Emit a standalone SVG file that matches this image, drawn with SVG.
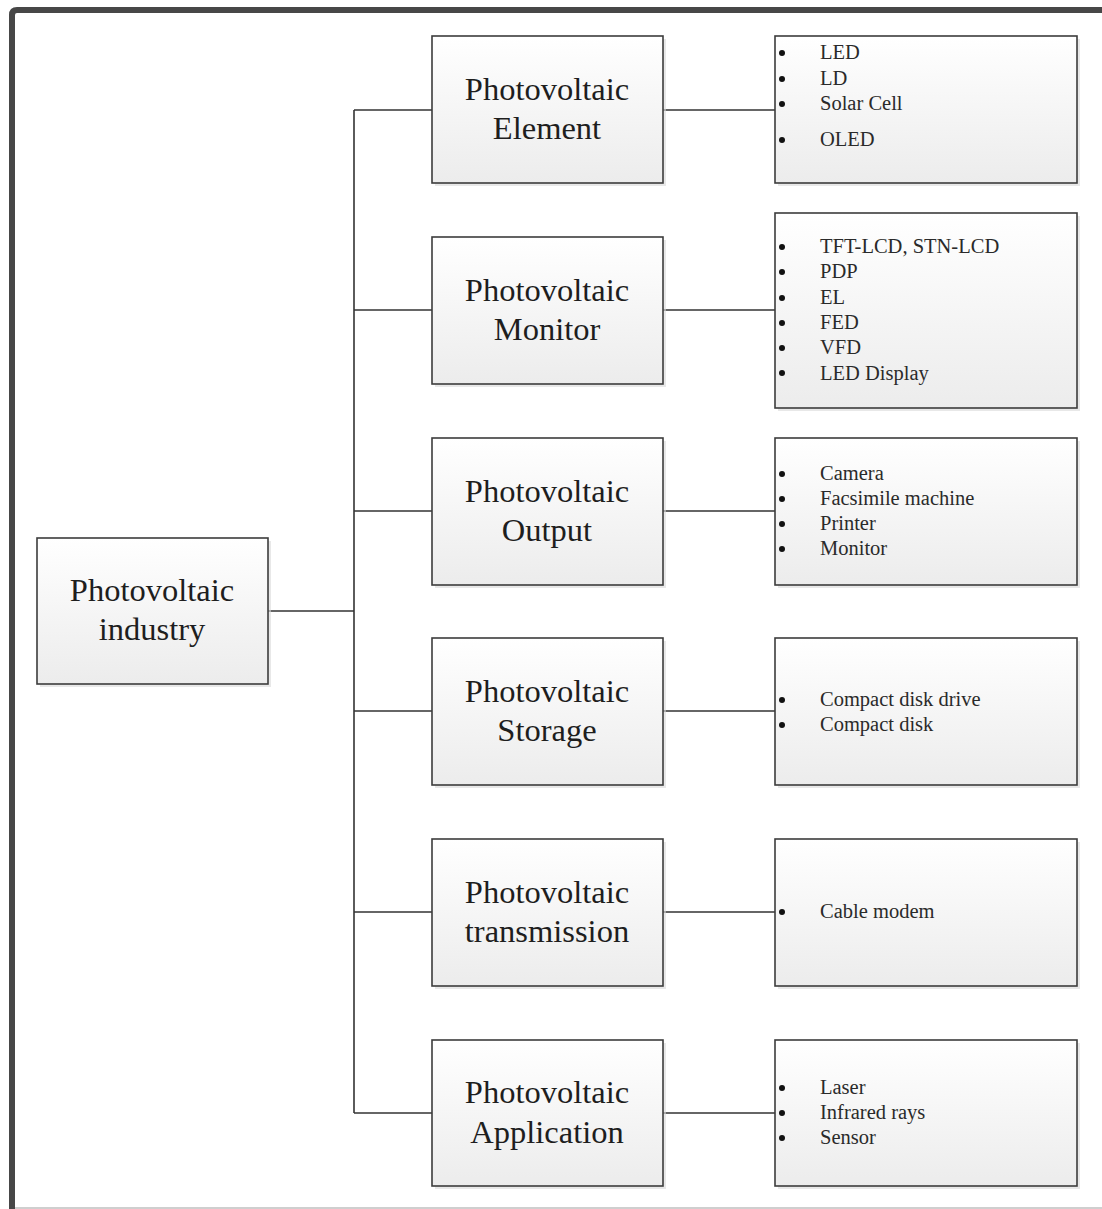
<svg xmlns="http://www.w3.org/2000/svg" width="1102" height="1209" viewBox="0 0 1102 1209">
  <style>
    .box { fill: url(#boxFill); stroke: #3c3c3c; stroke-width: 1.6; }
    .shadow { fill: #d9d9d9; opacity: 0.6; }
    .title { font-family: "Liberation Serif", "Times New Roman", serif; font-size: 32.5px; fill: #1e1e1e; text-anchor: middle; }
    .item { font-family: "Liberation Serif", "Times New Roman", serif; font-size: 20.5px; fill: #2a2a2a; }
    .bullet { fill: #111; }
    .wire { stroke: #333; stroke-width: 1.6; fill: none; }
  </style>
  <defs>
    <linearGradient id="boxFill" x1="0" y1="0" x2="0" y2="1">
      <stop offset="0" stop-color="#ffffff"/>
      <stop offset="1" stop-color="#ececec"/>
    </linearGradient>
  </defs>

  <rect width="1102" height="1209" fill="#ffffff"/>

  <!-- frame -->
  <path d="M12,1209 V15 Q12,10 17,10 H1102" fill="none" stroke="#474747" stroke-width="6"/>
  <line x1="15" y1="1208" x2="1102" y2="1208" stroke="#cfcfcf" stroke-width="2"/>

  <!-- connectors -->
  <g id="connectors">
    <line class="wire" x1="268" y1="611" x2="354" y2="611"/>
    <line class="wire" x1="354" y1="110" x2="354" y2="1113"/>
    <line class="wire" x1="354" y1="110" x2="432" y2="110"/>
    <line class="wire" x1="354" y1="310" x2="432" y2="310"/>
    <line class="wire" x1="354" y1="511" x2="432" y2="511"/>
    <line class="wire" x1="354" y1="711" x2="432" y2="711"/>
    <line class="wire" x1="354" y1="912" x2="432" y2="912"/>
    <line class="wire" x1="354" y1="1113" x2="432" y2="1113"/>
    <line class="wire" x1="663" y1="110" x2="775" y2="110"/>
    <line class="wire" x1="663" y1="310" x2="775" y2="310"/>
    <line class="wire" x1="663" y1="511" x2="775" y2="511"/>
    <line class="wire" x1="663" y1="711" x2="775" y2="711"/>
    <line class="wire" x1="663" y1="912" x2="775" y2="912"/>
    <line class="wire" x1="663" y1="1113" x2="775" y2="1113"/>
  </g>

  <!-- root -->
  <g id="root">
    <rect class="shadow" x="40" y="541" width="231" height="146"/>
    <rect class="box" x="37" y="538" width="231" height="146"/>
    <text class="title" x="152" y="601">Photovoltaic</text>
    <text class="title" x="152" y="640">industry</text>
  </g>

  <!-- categories -->
  <g id="element">
    <rect class="shadow" x="435" y="39" width="231" height="147"/>
    <rect class="box" x="432" y="36" width="231" height="147"/>
    <text class="title" x="547" y="100">Photovoltaic</text>
    <text class="title" x="547" y="139">Element</text>
  </g>
  <g id="monitor">
    <rect class="shadow" x="435" y="240" width="231" height="147"/>
    <rect class="box" x="432" y="237" width="231" height="147"/>
    <text class="title" x="547" y="301">Photovoltaic</text>
    <text class="title" x="547" y="340">Monitor</text>
  </g>
  <g id="output">
    <rect class="shadow" x="435" y="441" width="231" height="147"/>
    <rect class="box" x="432" y="438" width="231" height="147"/>
    <text class="title" x="547" y="502">Photovoltaic</text>
    <text class="title" x="547" y="541">Output</text>
  </g>
  <g id="storage">
    <rect class="shadow" x="435" y="641" width="231" height="147"/>
    <rect class="box" x="432" y="638" width="231" height="147"/>
    <text class="title" x="547" y="702">Photovoltaic</text>
    <text class="title" x="547" y="741">Storage</text>
  </g>
  <g id="transmission">
    <rect class="shadow" x="435" y="842" width="231" height="147"/>
    <rect class="box" x="432" y="839" width="231" height="147"/>
    <text class="title" x="547" y="903">Photovoltaic</text>
    <text class="title" x="547" y="942">transmission</text>
  </g>
  <g id="application">
    <rect class="shadow" x="435" y="1043" width="231" height="146"/>
    <rect class="box" x="432" y="1040" width="231" height="146"/>
    <text class="title" x="547" y="1103">Photovoltaic</text>
    <text class="title" x="547" y="1143">Application</text>
  </g>

  <!-- item lists -->
  <g id="element-items">
    <rect class="shadow" x="778" y="39" width="302" height="147"/>
    <rect class="box" x="775" y="36" width="302" height="147"/>
    <circle class="bullet" cx="782" cy="53" r="3"/>
    <circle class="bullet" cx="782" cy="79" r="3"/>
    <circle class="bullet" cx="782" cy="104" r="3"/>
    <circle class="bullet" cx="782" cy="140" r="3"/>
    <text class="item" x="820" y="59">LED</text>
    <text class="item" x="820" y="85">LD</text>
    <text class="item" x="820" y="110">Solar Cell</text>
    <text class="item" x="820" y="146">OLED</text>
  </g>
  <g id="monitor-items">
    <rect class="shadow" x="778" y="216" width="302" height="195"/>
    <rect class="box" x="775" y="213" width="302" height="195"/>
    <circle class="bullet" cx="782" cy="247" r="3"/>
    <circle class="bullet" cx="782" cy="272" r="3"/>
    <circle class="bullet" cx="782" cy="298" r="3"/>
    <circle class="bullet" cx="782" cy="323" r="3"/>
    <circle class="bullet" cx="782" cy="348" r="3"/>
    <circle class="bullet" cx="782" cy="373" r="3"/>
    <text class="item" x="820" y="253">TFT-LCD, STN-LCD</text>
    <text class="item" x="820" y="278">PDP</text>
    <text class="item" x="820" y="304">EL</text>
    <text class="item" x="820" y="329">FED</text>
    <text class="item" x="820" y="354">VFD</text>
    <text class="item" x="820" y="380">LED Display</text>
  </g>
  <g id="output-items">
    <rect class="shadow" x="778" y="441" width="302" height="147"/>
    <rect class="box" x="775" y="438" width="302" height="147"/>
    <circle class="bullet" cx="782" cy="474" r="3"/>
    <circle class="bullet" cx="782" cy="499" r="3"/>
    <circle class="bullet" cx="782" cy="524" r="3"/>
    <circle class="bullet" cx="782" cy="549" r="3"/>
    <text class="item" x="820" y="480">Camera</text>
    <text class="item" x="820" y="505">Facsimile machine</text>
    <text class="item" x="820" y="530">Printer</text>
    <text class="item" x="820" y="555">Monitor</text>
  </g>
  <g id="storage-items">
    <rect class="shadow" x="778" y="641" width="302" height="147"/>
    <rect class="box" x="775" y="638" width="302" height="147"/>
    <circle class="bullet" cx="782" cy="700" r="3"/>
    <circle class="bullet" cx="782" cy="725" r="3"/>
    <text class="item" x="820" y="706">Compact disk drive</text>
    <text class="item" x="820" y="731">Compact disk</text>
  </g>
  <g id="transmission-items">
    <rect class="shadow" x="778" y="842" width="302" height="147"/>
    <rect class="box" x="775" y="839" width="302" height="147"/>
    <circle class="bullet" cx="782" cy="912" r="3"/>
    <text class="item" x="820" y="918">Cable modem</text>
  </g>
  <g id="application-items">
    <rect class="shadow" x="778" y="1043" width="302" height="146"/>
    <rect class="box" x="775" y="1040" width="302" height="146"/>
    <circle class="bullet" cx="782" cy="1088" r="3"/>
    <circle class="bullet" cx="782" cy="1113" r="3"/>
    <circle class="bullet" cx="782" cy="1138" r="3"/>
    <text class="item" x="820" y="1094">Laser</text>
    <text class="item" x="820" y="1119">Infrared rays</text>
    <text class="item" x="820" y="1144">Sensor</text>
  </g>
</svg>
